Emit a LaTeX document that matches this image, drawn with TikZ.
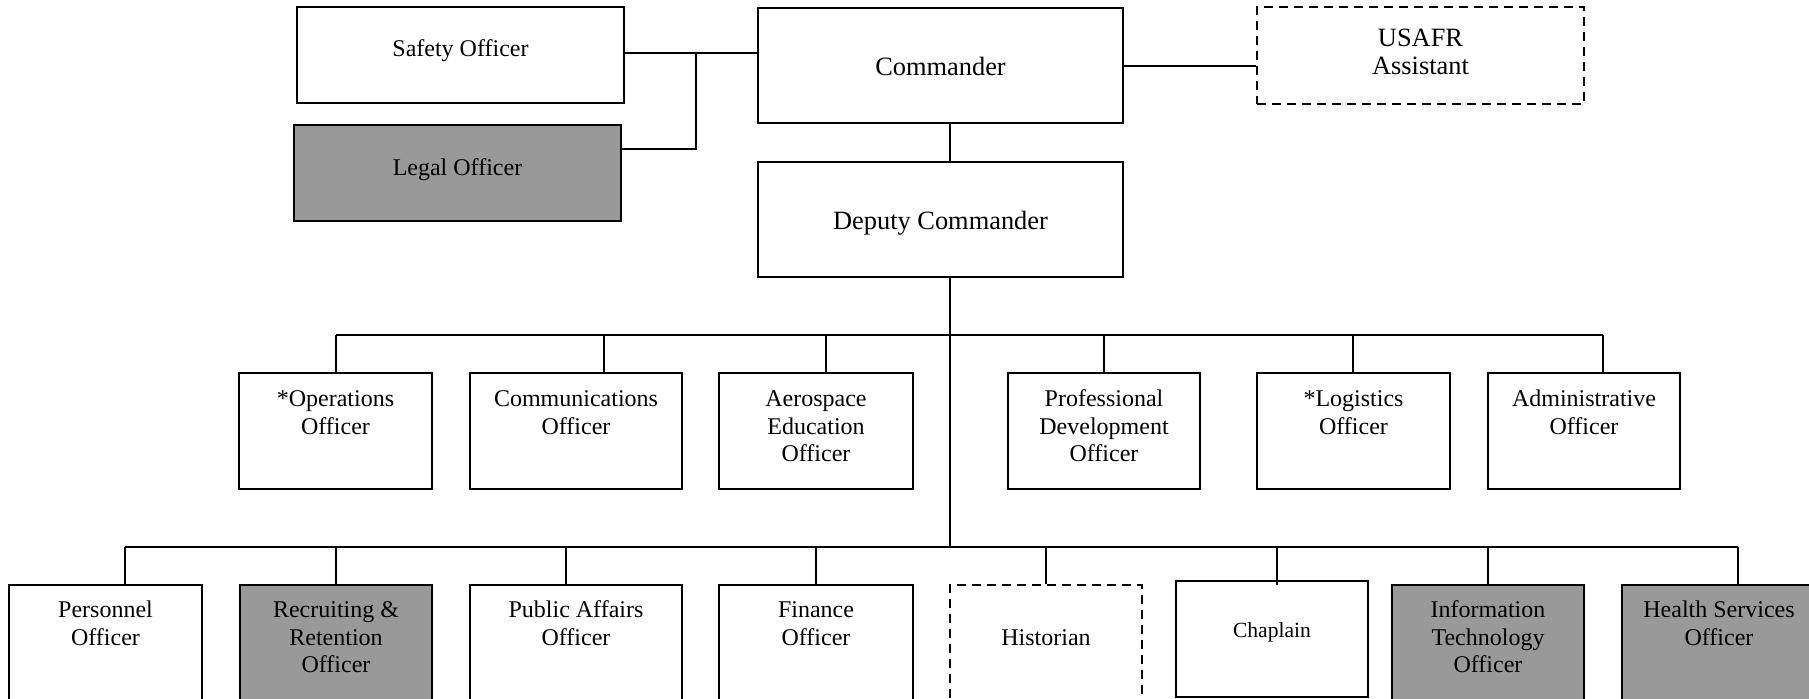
\documentclass[tikz,border=0pt]{standalone}
\usepackage{fontspec}
\setmainfont{Liberation Serif}
\usetikzlibrary{calc,fit}
\definecolor{boxgray}{RGB}{153,153,153}
\begin{document}
\begin{tikzpicture}[x=0.5pt,y=-0.5pt,
  box/.style={draw=black,line width=0.8pt,rectangle,inner sep=0pt,fill=white},
  gbox/.style={box,fill=boxgray},
  dbox/.style={box,dash pattern=on 4.5pt off 3pt},
  conn/.style={draw=black,line width=0.6pt},
  lbl/.style={anchor=north,inner sep=0pt,align=center,font=\fontsize{12}{13.85}\selectfont},
  big/.style={lbl,font=\fontsize{13.2}{14}\selectfont},
  small/.style={lbl,font=\fontsize{10.8}{12.4}\selectfont}]
\useasboundingbox (0,0) rectangle (1809,699);
\clip (0,0) rectangle (1809,699);
\fill[white] (0,0) rectangle (1809,699);

% boxes
\node[box,  fit={(297,7) (624,103)}] (saf) {};
\node[gbox, fit={(294,125) (621,221)}] (leg) {};
\node[box,  fit={(758,8) (1123,123)}] (cmd) {};
\node[box,  fit={(758,162) (1123,277)}] (dep) {};
\node[dbox, fit={(1257,7) (1584,104)}] (usa) {};

\node[box, fit={(239,373) (432,489)}] (ops) {};
\node[box, fit={(470,373) (682,489)}] (com) {};
\node[box, fit={(719,373) (913,489)}] (aer) {};
\node[box, fit={(1008,373) (1200,489)}] (pro) {};
\node[box, fit={(1257,373) (1450,489)}] (log) {};
\node[box, fit={(1488,373) (1680,489)}] (adm) {};

\node[box,  fit={(9,585) (202,712)}] (per) {};
\node[gbox, fit={(240,585) (432,712)}] (rec) {};
\node[box,  fit={(470,585) (682,712)}] (pub) {};
\node[box,  fit={(719,585) (913,712)}] (fin) {};
\node[dbox, fit={(950,585) (1142,712)}] (his) {};
\node[box,  fit={(1176,581) (1368,697)}] (cha) {};
\node[gbox, fit={(1392,585) (1584,712)}] (inf) {};
\node[gbox, fit={(1622,585) (1816,712)}] (hea) {};

% texts
\node[lbl] (saf-t) at ($(saf.north)+(0,30.6)$) {\strut Safety Officer};
\node[lbl] (leg-t) at ($(leg.north)+(0,31.6)$) {\strut Legal Officer};
\node[big] (cmd-t) at ($(cmd.north)+(0,48.4)$) {\strut Commander};
\node[big] (dep-t) at ($(dep.north)+(0,48.4)$) {\strut Deputy Commander};
\node[big] (usa-t) at ($(usa.north)+(0,20.4)$) {\strut USAFR\\Assistant};

\node[lbl] (ops-t) at ($(ops.north)+(0,14.6)$) {\strut *Operations\\Officer};
\node[lbl] (com-t) at ($(com.north)+(0,14.6)$) {\strut Communications\\Officer};
\node[lbl] (aer-t) at ($(aer.north)+(0,14.6)$) {\strut Aerospace\\Education\\Officer};
\node[lbl] (pro-t) at ($(pro.north)+(0,14.6)$) {\strut Professional\\Development\\Officer};
\node[lbl] (log-t) at ($(log.north)+(0,14.6)$) {\strut *Logistics\\Officer};
\node[lbl] (adm-t) at ($(adm.north)+(0,14.6)$) {\strut Administrative\\Officer};

\node[lbl] (per-t) at ($(per.north)+(0,13.6)$) {\strut Personnel\\Officer};
\node[lbl] (rec-t) at ($(rec.north)+(0,13.6)$) {\strut Recruiting \&\\Retention\\Officer};
\node[lbl] (pub-t) at ($(pub.north)+(0,13.6)$) {\strut Public Affairs\\Officer};
\node[lbl] (fin-t) at ($(fin.north)+(0,13.6)$) {\strut Finance\\Officer};
\node[lbl] (his-t) at ($(his.north)+(0,41.6)$) {\strut Historian};
\node[small] (cha-t) at ($(cha.north)+(0,39.6)$) {\strut Chaplain};
\node[lbl] (inf-t) at ($(inf.north)+(0,13.6)$) {\strut Information\\Technology\\Officer};
\node[lbl] (hea-t) at ($(hea.north)+(0,13.6)$) {\strut Health Services\\Officer};

% connector coordinates
\coordinate (sj) at (696,53);
\coordinate (lj) at (696,149);
\coordinate (uj) at (1190,66);
\coordinate (mx) at (950,335);
\coordinate (mb) at (950,547);

\coordinate (ops-d) at (336,335);
\coordinate (com-d) at (604,335);
\coordinate (aer-d) at (826,335);
\coordinate (pro-d) at (1104,335);
\coordinate (log-d) at (1353,335);
\coordinate (adm-d) at (1603,335);

\coordinate (per-d) at (125,547);
\coordinate (rec-d) at (336,547);
\coordinate (pub-d) at (566,547);
\coordinate (fin-d) at (816,547);
\coordinate (his-d) at (1046,547);
\coordinate (cha-d) at (1277,547);
\coordinate (inf-d) at (1488,547);
\coordinate (hea-d) at (1738,547);

% connectors
\draw[conn] (saf.east |- sj) -- (cmd.west |- sj);
\draw[conn] (leg.east |- lj) -- (lj) -- (sj);
\draw[conn] (cmd.east |- uj) -- (usa.west |- uj);
\draw[conn] (cmd.south -| mx) -- (dep.north -| mx);
\draw[conn] (dep.south -| mx) -- (mb);

\draw[conn] (ops-d) -- (adm-d);
\foreach \n in {ops,com,aer,pro,log,adm}
  \draw[conn] (\n-d) -- (\n-d |- \n.north);

\draw[conn] (per-d) -- (hea-d);
\foreach \n in {per,rec,pub,fin,his,inf,hea}
  \draw[conn] (\n-d) -- (\n-d |- \n.north);
\draw[conn] (cha-d) -- ($(cha-d |- cha.north)+(0,5)$);
\end{tikzpicture}
\end{document}
